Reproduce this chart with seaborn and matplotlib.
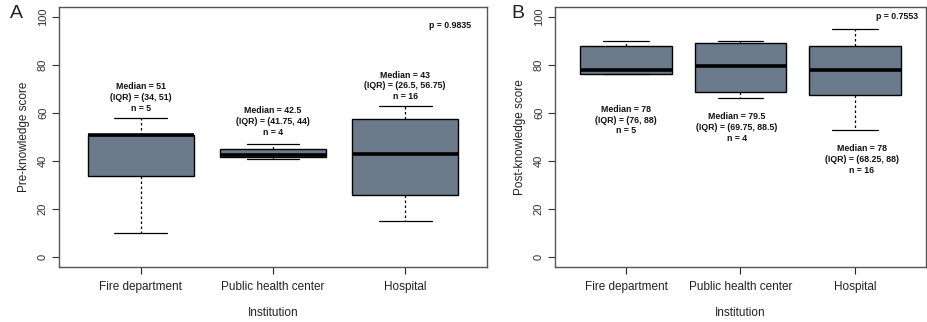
import seaborn as sns
import matplotlib.pyplot as plt
import pandas as pd

sns.set_theme(style='white')
plt.rcParams['font.family'] = ['Liberation Sans', 'DejaVu Sans']

institutions = ["Fire department", "Public health center", "Hospital"]

# five-number summaries (min, lower hinge, median, upper hinge, max)
pre_fire = [10, 34, 51, 51, 58]
pre_public = [41, 41.5, 42.5, 45, 47]
pre_hospital = [15, 26, 43, 57.5, 63]

post_fire = [76, 76, 78, 88, 90]
post_public = [66, 68.5, 79.5, 89, 90]
post_hospital = [53, 67.5, 78, 88, 95]

pre_labels = ["Median = 51\n(IQR) = (34, 51)\nn = 5",
              "Median = 42.5\n(IQR) = (41.75, 44)\nn = 4",
              "Median = 43\n(IQR) = (26.5, 56.75)\nn = 16"]
post_labels = ["Median = 78\n(IQR) = (76, 88)\nn = 5",
               "Median = 79.5\n(IQR) = (69.75, 88.5)\nn = 4",
               "Median = 78\n(IQR) = (68.25, 88)\nn = 16"]
pre_label_y = [66.5, 56.4, 71.2]
post_label_y = [57.0, 54.0, 40.6]
p_values = ["p = 0.9835", "p = 0.7553"]


def long_table(groups):
    rows = []
    for name, vals in zip(institutions, groups):
        for v in vals:
            rows.append({"Institution": name, "score": v})
    return pd.DataFrame(rows)


def draw_panel(ax, df, ylabel, labels, label_y, ptext, p_y, p_x, letter, label_dx):
    sns.boxplot(data=df, x="Institution", y="score", order=institutions, ax=ax,
                color="#6B7B8C", saturation=1, width=0.8, whis=10,
                linecolor="black", linewidth=1.0,
                boxprops=dict(facecolor="#6B7B8C", edgecolor="black", linewidth=1.0),
                medianprops=dict(color="black", linewidth=2.6),
                whiskerprops=dict(color="black", linewidth=0.9, linestyle=(0, (2, 2))),
                capprops=dict(color="black", linewidth=0.9),
                showfliers=False)
    ax.set_xlim(-0.62, 2.62)
    ax.set_ylim(-4, 104)
    ax.set_yticks([0, 20, 40, 60, 80, 100])
    ax.set_ylabel(ylabel, fontsize=8.5, color="#222222", labelpad=6)
    ax.set_xlabel("Institution", fontsize=8.5, color="#222222", labelpad=10)
    ax.tick_params(axis="y", labelsize=8, direction="out", length=5, width=0.8,
                   colors="#333333", left=True, pad=3)
    for t in ax.get_yticklabels():
        t.set_rotation(90)
        t.set_va("center")
    ax.tick_params(axis="x", labelsize=8.5, direction="out", length=5, width=0.8,
                   colors="#222222", bottom=True, pad=5)
    for s in ax.spines.values():
        s.set_color("#555555")
        s.set_linewidth(1.0)
    for i, (txt, y) in enumerate(zip(labels, label_y)):
        ax.text(i + label_dx[i], y, txt, ha="center", va="center", fontsize=6.3,
                fontweight="bold", linespacing=1.25, color="#111111")
    ax.text(p_x, p_y, ptext, ha="right", va="center", fontsize=6.3,
            fontweight="bold", color="#111111")
    ax.text(-0.1, 0.975, letter, transform=ax.transAxes, fontsize=14,
            ha="center", va="center", color="#222222")


fig = plt.figure(figsize=(9.27, 3.22), dpi=100)
ax1 = fig.add_axes([59 / 927, 55 / 322, 428 / 927, 260 / 322])
ax2 = fig.add_axes([555 / 927, 55 / 322, 371 / 927, 260 / 322])

draw_panel(ax1, long_table([pre_fire, pre_public, pre_hospital]), "Pre-knowledge score",
           pre_labels, pre_label_y, p_values[0], 96.5, 2.5, "A", [0, 0, 0])
draw_panel(ax2, long_table([post_fire, post_public, post_hospital]), "Post-knowledge score",
           post_labels, post_label_y, p_values[1], 100, 2.55, "B", [0, -0.03, 0.06])

fig.savefig("out.png", dpi=100)
